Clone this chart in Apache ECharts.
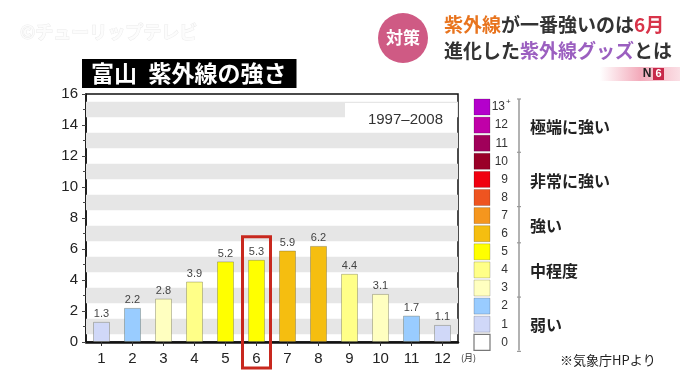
<!DOCTYPE html>
<html><head><meta charset="utf-8">
<script src="https://cdn.jsdelivr.net/npm/echarts@6/dist/echarts.min.js"></script>
<style>html,body{margin:0;padding:0;background:#fff}#c{width:680px;height:382px}</style>
</head><body><div id="c"></div>
<script>
const months = ['1','2','3','4','5','6','7','8','9','10','11','12'];
const uvIndex = [1.3, 2.2, 2.8, 3.9, 5.2, 5.3, 5.9, 6.2, 4.4, 3.1, 1.7, 1.1];
const bandCenters = [1, 3, 5, 7, 9, 11, 13, 15];
const legendLabels = ['13','12','11','10','9','8','7','6','5','4','3','2','1','0'];
const legendColors = ['#b400cc','#c000a8','#a0005a','#9a0028','#f00010','#ee5420','#f5961e','#f5be10','#ffff00','#ffff88','#ffffc0','#99ccff','#d0d8f8','#ffffff'];
const legendGroups = [
  {name:'極端に強い', from:0, to:2},
  {name:'非常に強い', from:3, to:5},
  {name:'強い', from:6, to:7},
  {name:'中程度', from:8, to:10},
  {name:'弱い', from:11, to:13}
];
const highlightMonth = '6';
const periodText = '1997–2008';

const NUM = 'Liberation Sans, Noto Sans CJK JP, sans-serif';
const JP = 'Noto Sans CJK JP, sans-serif';

function colorFor(v){
  const lvl = Math.min(13, Math.round(v));
  return legendColors[13 - lvl];
}

const chart = echarts.init(document.getElementById('c'), null, {renderer:'canvas'});

const graphics = [];
// watermark
graphics.push({type:'text', id:'wm', style:{text:'©チューリップテレビ', x:20, y:32, verticalAlign:'middle', fontSize:18, fontFamily:JP, fontWeight:'bold', fill:'#fcfcfc', stroke:'#ebebeb', lineWidth:1}});
// header circle
graphics.push({type:'circle', id:'hc', shape:{cx:403, cy:38, r:25}, style:{fill:'#cf5a84'}});
graphics.push({type:'text', id:'ht', style:{text:'対策', x:403, y:38, align:'center', verticalAlign:'middle', fontSize:17, fontWeight:'bold', fontFamily:JP, fill:'#fff'}});
graphics.push({type:'text', id:'h1', style:{text:'{o|紫外線}{k|が一番強いのは}{r|6月}', x:444, y:25, verticalAlign:'middle',
  rich:{o:{fill:'#e8741e', fontSize:19, fontWeight:'bold', fontFamily:JP}, k:{fill:'#333', fontSize:19, fontWeight:'bold', fontFamily:JP}, r:{fill:'#d8344a', fontSize:19, fontWeight:'bold', fontFamily:JP}}}});
graphics.push({type:'text', id:'h2', style:{text:'{k|進化した}{p|紫外線グッズ}{k|とは}', x:444, y:51, verticalAlign:'middle',
  rich:{p:{fill:'#9b5fc0', fontSize:19, fontWeight:'bold', fontFamily:JP}, k:{fill:'#333', fontSize:19, fontWeight:'bold', fontFamily:JP}}}});
// N6 logo
graphics.push({type:'rect', id:'n6b', shape:{x:600, y:67, width:80, height:14}, style:{fill:new echarts.graphic.LinearGradient(0,0,1,0,[{offset:0,color:'rgba(240,150,170,0)'},{offset:0.5,color:'rgba(240,150,170,0.8)'},{offset:1,color:'rgba(240,150,170,0.3)'}])}});
graphics.push({type:'text', id:'n6n', style:{text:'N', x:647, y:74, align:'center', verticalAlign:'middle', fontSize:12, fontWeight:'bold', fontFamily:NUM, fill:'#222'}});
graphics.push({type:'rect', id:'n6r', shape:{x:653, y:68, width:11, height:12}, style:{fill:'#c8284a'}});
graphics.push({type:'text', id:'n66', style:{text:'6', x:658.5, y:74, align:'center', verticalAlign:'middle', fontSize:11, fontWeight:'bold', fontFamily:NUM, fill:'#fff'}});

// legend squares
const lgTop = 99, lgStep = 18.1, lgX = 474;
legendLabels.forEach((lab, i) => {
  const y = lgTop + i * lgStep;
  graphics.push({type:'rect', id:'lg'+i, shape:{x:lgX, y:y, width:16, height:16}, style:{fill:legendColors[i], stroke: i === 13 ? '#777' : 'rgba(0,0,0,0.18)', lineWidth: i === 13 ? 1.2 : 1}});
  graphics.push({type:'text', id:'lt'+i, style:{text:lab, x: i === 0 ? 505 : 508, y:y+8, align:'right', verticalAlign:'middle', fontSize:12, fontFamily:NUM, fill:'#333'}});
  if (i === 0) graphics.push({type:'text', id:'ltp', style:{text:'+', x:506, y:y+3, align:'left', verticalAlign:'middle', fontSize:8, fontFamily:NUM, fill:'#333'}});
});
// bracket
const bx = 519;
graphics.push({type:'line', id:'bl', shape:{x1:bx, y1:lgTop, x2:bx, y2:lgTop + 14*lgStep - 2}, style:{stroke:'#999', lineWidth:1.5}});
legendGroups.forEach((g, k) => {
  const yA = lgTop + g.from * lgStep - (k === 0 ? 0 : 1);
  const yB = lgTop + (g.to + 1) * lgStep - 1;
  graphics.push({type:'line', id:'bt'+k, shape:{x1:bx-2, y1:yA, x2:bx+2, y2:yA}, style:{stroke:'#999', lineWidth:1.2}});
  if (k === legendGroups.length - 1) graphics.push({type:'line', id:'btz', shape:{x1:bx-2, y1:yB, x2:bx+2, y2:yB}, style:{stroke:'#999', lineWidth:1.2}});
  graphics.push({type:'text', id:'gn'+k, style:{text:g.name, x:530, y:(yA+yB)/2 + 1, verticalAlign:'middle', fontSize:16, fontWeight:'bold', fontFamily:JP, fill:'#222'}});
});
// source
graphics.push({type:'text', id:'src', style:{text:'※気象庁HPより', x:560, y:360, verticalAlign:'middle', fontSize:13, fontFamily:JP, fill:'#222'}});
// period (on white box)
graphics.push({type:'rect', id:'perbg', shape:{x:345, y:103, width:112, height:29}, style:{fill:'#fff'}, z:50});
graphics.push({type:'text', id:'per', style:{text:periodText, x:443, y:120, align:'right', verticalAlign:'middle', fontSize:15, fontFamily:NUM, fill:'#333'}, z:51});
// month unit
graphics.push({type:'text', id:'unit', style:{text:'(月)', x:461, y:358, verticalAlign:'middle', fontSize:9, fontFamily:JP, fill:'#333'}});

chart.setOption({
  animation:false,
  backgroundColor:'#fff',
  title:{text:'富山\u2002紫外線の強さ', left:82, top:59, backgroundColor:'#000', padding:[3,10,3,9],
    textStyle:{color:'#fff', fontSize:23, fontWeight:'bold', fontFamily:JP, lineHeight:23}},
  grid:{left:86, top:94, width:372, height:248, show:true, borderColor:'#111', borderWidth:1.5, backgroundColor:'#fff', containLabel:false},
  xAxis:{type:'category', data:months, boundaryGap:true,
    axisLine:{lineStyle:{color:'#111', width:2.5}},
    axisTick:{show:true, alignWithLabel:true, length:4, lineStyle:{color:'#333'}},
    axisLabel:{fontSize:15, color:'#222', fontFamily:NUM, margin:9}},
  yAxis:{type:'value', min:0, max:16, interval:2,
    axisLine:{show:true, lineStyle:{color:'#111', width:1.5}},
    axisTick:{show:true, length:4, lineStyle:{color:'#444'}},
    minorTick:{show:true, splitNumber:2, length:3, lineStyle:{color:'#444'}},
    splitLine:{show:false},
    axisLabel:{fontSize:15, color:'#222', fontFamily:NUM, margin:8}},
  series:[{
    type:'bar', barWidth:17,
    data: uvIndex.map(v => ({value:v, itemStyle:{color:colorFor(v)}})),
    itemStyle:{borderColor:'rgba(90,90,60,0.35)', borderWidth:1},
    label:{show:true, position:'top', distance:2, fontSize:11, color:'#444', fontFamily:NUM},
    markArea:{silent:true, itemStyle:{color:'#e6e6e6'},
      data: bandCenters.map(c => [{yAxis:c-0.5}, {yAxis:c+0.5}])}
  }],
  graphic: graphics
});

const hx = chart.convertToPixel({xAxisIndex:0}, highlightMonth);
const hVal = uvIndex[months.indexOf(highlightMonth)];
const hTop = chart.convertToPixel({yAxisIndex:0}, hVal) - 23;
const hBot = chart.convertToPixel({yAxisIndex:0}, 0) + 26;
chart.setOption({graphic:[{type:'rect', id:'hl', shape:{x:hx-14, y:hTop, width:28, height:hBot-hTop}, style:{fill:'none', stroke:'#c8281e', lineWidth:3}, z:100}]});
</script></body></html>
